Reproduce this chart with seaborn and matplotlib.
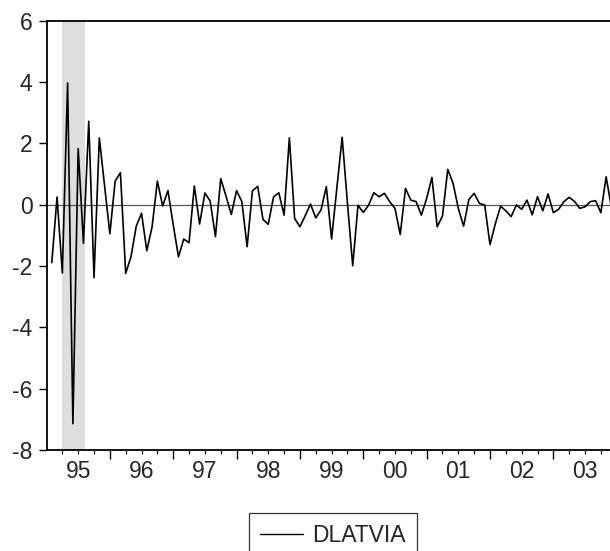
import numpy as np
import pandas as pd
import matplotlib
matplotlib.use("Agg")
import matplotlib.pyplot as plt
from matplotlib.lines import Line2D
from matplotlib.ticker import FixedLocator
import seaborn as sns

# Monthly first difference of the Latvia series, 1995M02 onward
series_name = "DLATVIA"
start_month = "1995-02"
dlatvia = [
    -1.89, 0.25, -2.23, 3.97, -7.14, 1.83, -1.26, 2.72, -2.38, 2.18, 0.62,
    -0.95, 0.77, 1.04, -2.24, -1.70, -0.70, -0.28, -1.50, -0.72, 0.77, -0.04,
    0.46, -0.65, -1.70, -1.12, -1.24, 0.61, -0.63, 0.38, 0.12, -1.04, 0.85,
    0.28, -0.32, 0.46, 0.10, -1.37, 0.45, 0.60, -0.48, -0.64, 0.25, 0.39,
    -0.34, 2.18, -0.45, -0.72, -0.36, 0.02, -0.43, -0.17, 0.59, -1.12, 0.55,
    2.20, 0.05, -1.99, -0.02, -0.25, -0.02, 0.39, 0.26, 0.37, 0.10, -0.12,
    -0.97, 0.53, 0.15, 0.10, -0.34, 0.20, 0.89, -0.72, -0.37, 1.15, 0.70,
    -0.12, -0.70, 0.17, 0.37, 0.04, -0.01, -1.30, -0.63, -0.05, -0.20, -0.39,
    -0.01, -0.15, 0.15, -0.33, 0.26, -0.20, 0.35, -0.26, -0.15, 0.10, 0.24,
    0.11, -0.12, -0.07, 0.10, 0.13, -0.26, 0.91, -0.10,
]
year_labels = ["95", "96", "97", "98", "99", "00", "01", "02", "03"]
y_ticks = [6, 4, 2, 0, -2, -4, -6, -8]
# shaded period, in months counted from 1995M01
shade_span = (3.0, 7.25)

sns.set_theme(style="ticks")
plt.rcParams["font.family"] = ["Liberation Sans", "DejaVu Sans"]
plt.rcParams["axes.unicode_minus"] = False

FS = 16.5

periods = pd.period_range(start_month, periods=len(dlatvia), freq="M")
base = pd.Period("1995-01", freq="M")
df = pd.DataFrame({
    "t": [(p - base).n for p in periods],
    series_name: dlatvia,
})

fig = plt.figure(figsize=(6.10, 5.51), dpi=100)
ax = fig.add_axes([46.5 / 610, 101 / 551, (616.7 - 46.5) / 610, 429.3 / 551])

ax.axvspan(*shade_span, color="#dedede", lw=0, zorder=0)
ax.axhline(0, color="#555555", lw=0.9, zorder=1)
sns.lineplot(data=df, x="t", y=series_name, color="black", lw=1.2,
             ax=ax, legend=False, zorder=3)

ax.set_xlim(0, 108)
ax.set_ylim(-8, 6)
ax.set_xlabel("")
ax.set_ylabel("")

# year boundaries as major ticks, quarters as minor ticks, labels mid-year
ax.xaxis.set_major_locator(FixedLocator(np.arange(12, 108, 12)))
ax.xaxis.set_minor_locator(FixedLocator([m for m in range(3, 108, 3) if m % 12]))
ax.set_xticklabels([])
for k, lab in enumerate(year_labels):
    ax.text(6 + 12 * k, -8.32, lab, ha="center", va="top", fontsize=FS,
            clip_on=False)

ax.set_yticks(y_ticks)
ax.set_yticklabels([str(v) for v in y_ticks], fontsize=FS)

ax.tick_params(axis="y", which="major", direction="out", length=6, width=1.0,
               pad=4.0, color="black")
ax.tick_params(axis="x", which="major", direction="out", length=6.5, width=1.0,
               color="black")
ax.tick_params(axis="x", which="minor", direction="out", length=3, width=0.8,
               color="black")

for side in ["left", "bottom", "top"]:
    ax.spines[side].set_color("black")
    ax.spines[side].set_linewidth(1.3)
ax.spines["right"].set_visible(False)

handle = Line2D([], [], color="black", lw=1.0)
leg = fig.legend([handle], [series_name], loc="upper center",
                 bbox_to_anchor=(333 / 610, 1 - 513 / 551),
                 fontsize=FS, frameon=True, fancybox=False,
                 handlelength=1.85, handletextpad=0.4, borderpad=0.5,
                 borderaxespad=0.0)
leg.get_frame().set_edgecolor("black")
leg.get_frame().set_linewidth(0.9)

fig.savefig("out.png", dpi=100)
